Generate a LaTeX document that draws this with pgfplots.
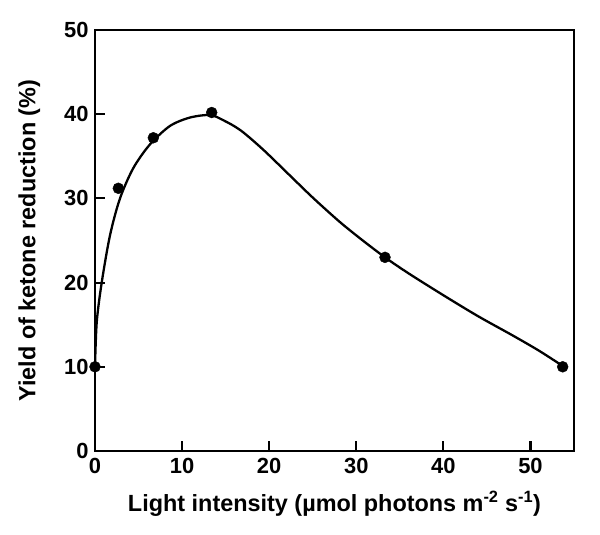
\documentclass[border=0pt]{standalone}
\usepackage{fontspec}
\setmainfont{Liberation Sans}
\usepackage{pgfplots}
\pgfplotsset{compat=1.18}

\begin{document}
\begin{tikzpicture}
\useasboundingbox (-95bp,-84bp) rectangle (505bp,451bp);
\begin{axis}[
    at={(0,0)}, anchor=south west,
    scale only axis,
    width=479bp, height=421bp,
    xmin=0, xmax=55, ymin=0, ymax=50,
    xtick={0,10,...,50}, ytick={0,10,...,50},
    axis line style={line width=3pt},
    xtick pos=left, ytick pos=left,
    tick align=inside,
    major tick length=10bp,
    tick style={line width=2.2pt, black},
    /pgf/number format/assume math mode=true,
    tick label style={font=\fontsize{22}{24}\selectfont\bfseries},
    xticklabel style={yshift=-4bp},
    yticklabel style={xshift=-3bp},
    label style={font=\fontsize{23.5}{26}\selectfont\bfseries},
    xlabel={Light intensity (µmol photons m\textsuperscript{-2} s\textsuperscript{-1})},
    ylabel={Yield of ketone reduction (\%)},
    xlabel style={yshift=-10bp},
    ylabel style={yshift=17bp},
    clip=false,
]
\addplot[line width=2.3pt, black, smooth, tension=0.5] coordinates {
(0,10) (0.2,15.3) (0.77,20) (1.72,25.6) (2.87,30) (4.4,33.6) (6.3,36.4)
(8.6,38.6) (10.9,39.6) (13.2,39.9) (14.7,39.3) (16.7,38.1) (19.3,35.8)
(22.4,32.7) (25,30.1) (28,27.3) (30.5,25.2) (33.3,23.0) (36,21.1)
(40,18.5) (44,16.0) (48,13.7) (51,11.9) (53.7,10.1)
};
\addplot[only marks, mark=*, mark size=5.5pt, black] coordinates {
(0,10) (2.68,31.2) (6.7,37.2) (13.4,40.2) (33.3,23) (53.7,10)
};
\end{axis}
\end{tikzpicture}
\end{document}
